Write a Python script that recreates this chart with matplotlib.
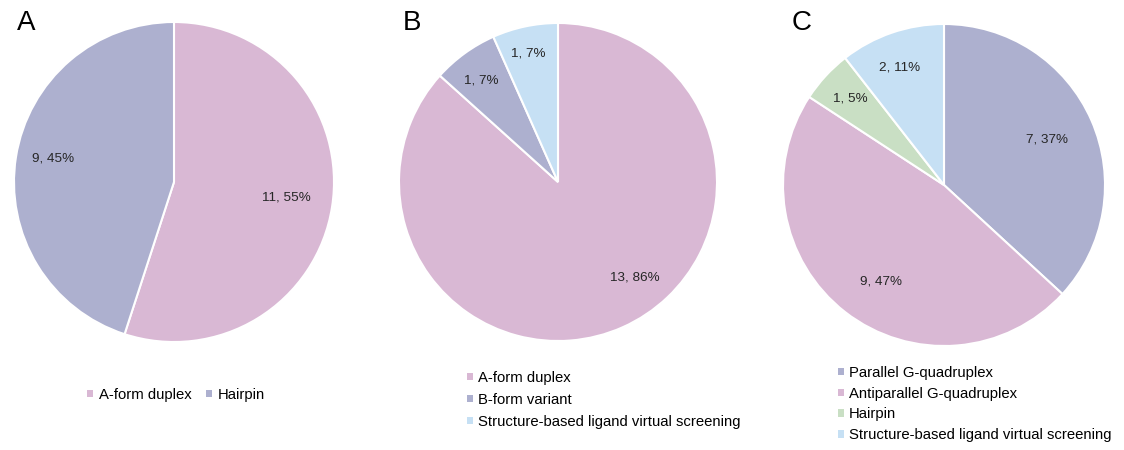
import matplotlib
matplotlib.use("Agg")
import matplotlib.pyplot as plt
import matplotlib.patches as mpatches
import numpy as np

plt.rcParams['font.family'] = ['Liberation Sans', 'DejaVu Sans']

# ---- data ----
cats_a = ["A-form duplex", "Hairpin"]
vals_a = [11, 9]
pct_a = [55, 45]

cats_b = ["A-form duplex", "B-form variant", "Structure-based ligand virtual screening"]
vals_b = [13, 1, 1]
pct_b = [86, 7, 7]

cats_c = ["Parallel G-quadruplex", "Antiparallel G-quadruplex", "Hairpin",
          "Structure-based ligand virtual screening"]
vals_c = [7, 9, 1, 2]
pct_c = [37, 47, 5, 11]

# ---- style ----
PINK = "#d9b8d4"
PURPLE = "#adb0cf"
BLUE = "#c6e0f4"
GREEN = "#c9dfc4"
cols_a = [PINK, PURPLE]
cols_b = [PINK, PURPLE, BLUE]
cols_c = [PURPLE, PINK, GREEN, BLUE]
# label placement: (radial fraction, angular shift in degrees)
lab_a = [(0.71, 1), (0.77, -2)]
lab_b = [(0.77, 15), (0.80, 1), (0.83, 1)]
lab_c = [(0.70, 0), (0.715, 5), (0.79, 0), (0.78, 2)]

W, H = 1124, 450
fig = plt.figure(figsize=(W / 100, H / 100), dpi=100)


def make_pie(cx, cy, r, vals, pcts, cols, labpos):
    ax = fig.add_axes([(cx - r) / W, (H - cy - r) / H, 2 * r / W, 2 * r / H])
    wedges, _ = ax.pie(vals, colors=cols, startangle=90, counterclock=False,
                       wedgeprops=dict(edgecolor="white", linewidth=1.5))
    for w, v, p, (d, sh) in zip(wedges, vals, pcts, labpos):
        ang = np.deg2rad((w.theta1 + w.theta2) / 2 + sh)
        ax.text(d * np.cos(ang), d * np.sin(ang), f"{v}, {p}%",
                ha="center", va="center", fontsize=9.7, color="#262626")
    ax.set_xlim(-1, 1)
    ax.set_ylim(-1, 1)
    ax.set_aspect("equal")
    ax.axis("off")
    return [mpatches.Patch(facecolor=w.get_facecolor(), edgecolor="none") for w in wedges]


ha_ = make_pie(174, 182, 160, vals_a, pct_a, cols_a, lab_a)
hb_ = make_pie(558, 182, 159, vals_b, pct_b, cols_b, lab_b)
hc_ = make_pie(944, 185, 161, vals_c, pct_c, cols_c, lab_c)

leg_kw = dict(frameon=False, fontsize=10.7, handlelength=0.4, handleheight=0.4,
              handletextpad=0.35, borderpad=0, borderaxespad=0)

fig.legend(ha_, cats_a, loc="center", bbox_to_anchor=(176 / W, 1 - 395 / H),
           ncol=2, columnspacing=1.0, **leg_kw)
fig.legend(hb_, cats_b, loc="upper left", bbox_to_anchor=(467 / W, 1 - 371 / H),
           labelspacing=0.53, **leg_kw)
fig.legend(hc_, cats_c, loc="upper left", bbox_to_anchor=(838 / W, 1 - 366 / H),
           labelspacing=0.45, **leg_kw)

for lbl, x in zip(["A", "B", "C"], [17, 403, 792]):
    fig.text(x / W, 1 - 23 / H, lbl, fontsize=20, ha="left", va="center", color="black")

fig.savefig("out.png", dpi=100, facecolor="white")
